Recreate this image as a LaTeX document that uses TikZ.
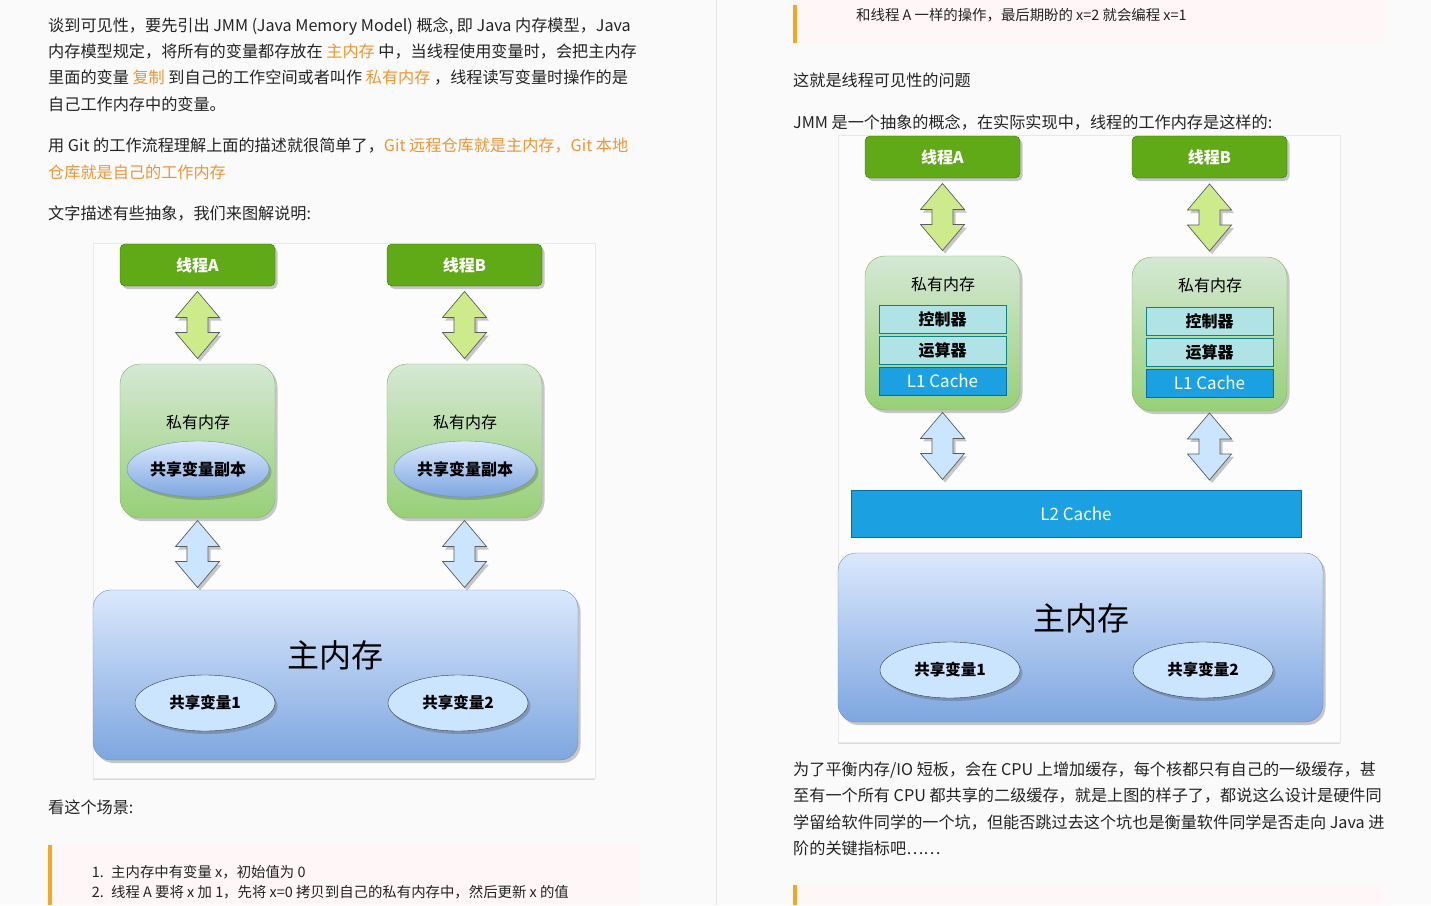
\documentclass[tikz,border=0pt]{standalone}
\usepackage{fontspec}
\setmainfont{Noto Sans CJK SC}
\usetikzlibrary{shadows,calc,shapes.geometric}
\definecolor{pagebg}{RGB}{250,250,250}
\definecolor{txt}{RGB}{35,35,35}
\definecolor{orng}{RGB}{238,150,50}
\definecolor{qbar}{RGB}{245,166,35}
\definecolor{qbg}{RGB}{255,247,247}
\definecolor{thrG}{HTML}{60A917}
\definecolor{thrB}{HTML}{2D7600}
\definecolor{garrow}{HTML}{CDEB8B}
\definecolor{barrow}{HTML}{CCE5FF}
\definecolor{arrB}{HTML}{5A5D62}
\definecolor{privT}{HTML}{D5E8D4}
\definecolor{privBot}{HTML}{97D077}
\definecolor{privB}{HTML}{82B366}
\definecolor{memT}{HTML}{DAE8FC}
\definecolor{memBot}{HTML}{7EA6E0}
\definecolor{memB}{HTML}{6C8EBF}
\definecolor{ctrlF}{HTML}{B0E3E6}
\definecolor{ctrlB}{HTML}{0E8088}
\definecolor{cacheF}{HTML}{1BA1E2}
\definecolor{cacheB}{HTML}{006EAF}
\definecolor{ellB}{HTML}{36393D}
\newcommand{\orn}[1]{\textcolor{orng}{#1}}
\newcommand{\bodyf}{\fontsize{16.15}{19}\selectfont}
\newcommand{\quotef}{\fontsize{14.4}{17}\selectfont}
\newcommand{\labf}{\fontsize{16}{19}\selectfont}
\tikzset{
  dshadow/.style={drop shadow={shadow xshift=2.5pt,shadow yshift=-3pt,opacity=0.3,fill=black!70}},
  bodytext/.style={anchor=west,inner sep=0pt,font=\bodyf,text=txt},
  quotetext/.style={anchor=west,inner sep=0pt,font=\quotef,text=txt},
  thread/.style={draw=thrB,fill=thrG,rounded corners=5pt,minimum width=155pt,minimum height=42pt,
    text=white,font=\labf\bfseries,dshadow},
  priv/.style={draw=privB,top color=privT,bottom color=privBot,rounded corners=20pt,
    minimum width=155pt,minimum height=154pt,dshadow},
  lab/.style={inner sep=0pt,font=\labf,text=black},
  copyell/.style={ellipse,draw=memB,top color=memT,bottom color=memBot,minimum width=142pt,
    minimum height=56pt,inner sep=0pt,font=\labf\bfseries,dshadow},
  mainmem/.style={draw=memB,top color=memT,bottom color=memBot,rounded corners=18pt,
    minimum width=485pt,minimum height=170pt,dshadow},
  bigtext/.style={inner sep=0pt,font=\fontsize{32}{36}\selectfont,text=black},
  sharedell/.style={ellipse,draw=ellB,fill=barrow,minimum width=140pt,minimum height=56pt,
    inner sep=0pt,font=\fontsize{15.5}{18}\selectfont\bfseries,dshadow},
  unitbox/.style={draw=ctrlB,fill=ctrlF,line width=0.8pt,minimum width=127pt,minimum height=28pt,
    inner sep=0pt,font=\labf\bfseries},
  cachebox/.style={draw=cacheB,fill=cacheF,line width=0.8pt,minimum width=127pt,minimum height=28pt,
    inner sep=0pt,font=\fontsize{17}{19}\selectfont,text=white},
  panel/.style={draw={rgb,255:red,232;green,232;blue,232},fill={rgb,255:red,252;green,252;blue,252},
    drop shadow={shadow xshift=0pt,shadow yshift=-2pt,opacity=0.12,fill=black}},
  dbl/.pic={
    \path[draw=arrB,fill=#1,line width=0.7pt,line join=miter,dshadow]
      (0,-33.5) -- (22,-7.5) -- (10.5,-7.5) -- (10.5,7.5) -- (22,7.5) -- (0,33.5)
      -- (-22,7.5) -- (-10.5,7.5) -- (-10.5,-7.5) -- (-22,-7.5) -- cycle;
  }
}
\begin{document}
\begin{tikzpicture}[x=1pt,y=-1pt]
\useasboundingbox[fill=pagebg] (0,0) rectangle (1431,905);
% column divider
\draw[draw={rgb,255:red,228;green,228;blue,228}] (716,0) -- (716,905);

% ---------------- left column text ----------------
\node[bodytext] (l1) at (48,26) {谈到可见性，要先引出 JMM (Java Memory Model) 概念, 即 Java 内存模型，Java};
\node[bodytext] (l2) at (48,52) {内存模型规定，将所有的变量都存放在 \orn{主内存} 中，当线程使用变量时，会把主内存};
\node[bodytext] (l3) at (48,78) {里面的变量 \orn{复制} 到自己的工作空间或者叫作 \orn{私有内存} ，线程读写变量时操作的是};
\node[bodytext] (l4) at (48,104) {自己工作内存中的变量。};
\node[bodytext] (l5) at (48,146) {用 Git 的工作流程理解上面的描述就很简单了，\orn{Git 远程仓库就是主内存，Git 本地}};
\node[bodytext] (l6) at (48,172) {\orn{仓库就是自己的工作内存}};
\node[bodytext] (l7) at (48,214) {文字描述有些抽象，我们来图解说明:};

% ---------------- left diagram ----------------
\path[panel] (93,243) rectangle (595,778);
\node[thread] (ta1) at (197.5,265) {线程A};
\node[thread] (tb1) at (464.5,265) {线程B};
\node[priv] (pa1) at (197.5,441) {};
\node[priv] (pb1) at (464.5,441) {};
\node[lab] (pal1) at (198,422) {私有内存};
\node[lab] (pbl1) at (465,422) {私有内存};
\node[copyell] (ca1) at (198,469) {共享变量副本};
\node[copyell] (cb1) at (465,469) {共享变量副本};
\node[mainmem] (mm1) at (335.5,675) {};
\node[bigtext] (mml1) at (335,655) {主内存};
\node[sharedell] (s11) at (205,703) {共享变量1};
\node[sharedell] (s21) at (458,703) {共享变量2};
\pic at ($(ta1.south)!0.5!(pa1.north)$) {dbl=garrow};
\pic at ($(tb1.south)!0.5!(pb1.north)$) {dbl=garrow};
\pic at ($(pa1.south)!0.5!(pa1.south |- mm1.north)$) {dbl=barrow};
\pic at ($(pb1.south)!0.5!(pb1.south |- mm1.north)$) {dbl=barrow};

\node[bodytext] (l8) at (48,807) {看这个场景:};
% quote block left
\fill[qbg] (48,845) rectangle (640,905);
\fill[qbar] (48,845) rectangle (52,905);
\node[quotetext,anchor=east] (n1) at (104,872) {1.};
\node[quotetext] (q1) at (111,872) {主内存中有变量 x，初始值为 0};
\node[quotetext,anchor=east] (n2) at (104,892) {2.};
\node[quotetext] (q2) at (111,892) {线程 A 要将 x 加 1，先将 x=0 拷贝到自己的私有内存中，然后更新 x 的值};

% ---------------- right column ----------------
\fill[qbg] (793,0) rectangle (1385,43);
\fill[qbar] (793,5) rectangle (797,43);
\node[quotetext] (q3) at (856,15) {和线程 A 一样的操作，最后期盼的 x=2 就会编程 x=1};
\node[bodytext] (r1) at (793,80) {这就是线程可见性的问题};
\node[bodytext] (r2) at (793,122) {JMM 是一个抽象的概念，在实际实现中，线程的工作内存是这样的:};

% ---------------- right diagram ----------------
\path[panel] (838,135) rectangle (1340,742);
\node[thread] (ta2) at (942.5,157) {线程A};
\node[thread] (tb2) at (1209.5,157) {线程B};
\node[priv] (pa2) at (942.5,333) {};
\node[priv] (pb2) at (1209.5,334) {};
\node[lab] (pal2) at (943,284) {私有内存};
\node[lab] (pbl2) at (1210,285) {私有内存};
\node[unitbox] (ka) at (942.5,319) {控制器};
\node[unitbox] (ya) at (942.5,350) {运算器};
\node[cachebox] (l1a) at (942.5,381) {L1 Cache};
\node[unitbox] (kb) at (1209.5,321) {控制器};
\node[unitbox] (yb) at (1209.5,352) {运算器};
\node[cachebox] (l1b) at (1209.5,383) {L1 Cache};
\node[cachebox,minimum width=450pt,minimum height=47pt] (l2c) at (1076,513.5) {L2 Cache};
\node[mainmem,minimum height=169pt] (mm2) at (1080.5,637.5) {};
\node[bigtext] (mml2) at (1081,618) {主内存};
\node[sharedell] (s12) at (950,670) {共享变量1};
\node[sharedell] (s22) at (1203,670) {共享变量2};
\pic at ($(ta2.south)!0.5!(pa2.north)$) {dbl=garrow};
\pic at ($(tb2.south)!0.5!(pb2.north)$) {dbl=garrow};
\pic at ($(pa2.south)!0.45!(pa2.south |- l2c.north)$) {dbl=barrow};
\pic at ($(pb2.south)!0.45!(pb2.south |- l2c.north)$) {dbl=barrow};

\node[bodytext] (r3) at (793,770) {为了平衡内存/IO 短板，会在 CPU 上增加缓存，每个核都只有自己的一级缓存，甚};
\node[bodytext] (r4) at (793,796) {至有一个所有 CPU 都共享的二级缓存，就是上图的样子了，都说这么设计是硬件同};
\node[bodytext] (r5) at (793,822) {学留给软件同学的一个坑，但能否跳过去这个坑也是衡量软件同学是否走向 Java 进};
\node[bodytext] (r6) at (793,848) {阶的关键指标吧……};
\fill[qbg] (793,885) rectangle (1385,905);
\fill[qbar] (793,885) rectangle (797,905);
\end{tikzpicture}
\end{document}
